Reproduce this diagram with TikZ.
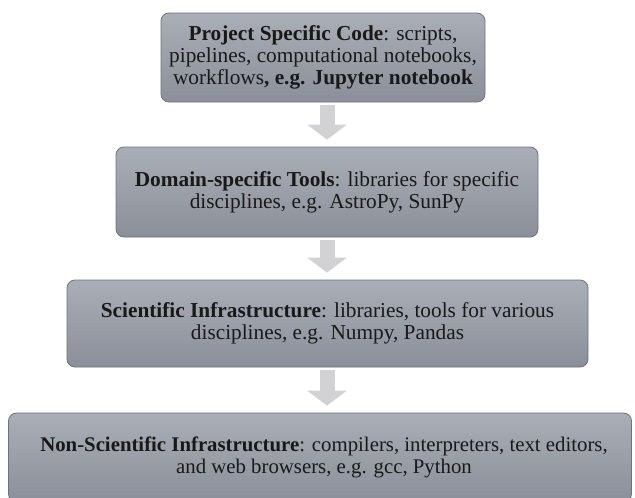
\documentclass[tikz,border=0pt]{standalone}
\usepackage{fontspec}
\setmainfont{Liberation Serif}
\usetikzlibrary{arrows.meta}
\definecolor{boxtop}{HTML}{AAAEB6}
\definecolor{boxbottom}{HTML}{8A8F99}
\definecolor{boxedge}{HTML}{6E727B}
\definecolor{downarrow}{HTML}{D2D2D4}
\begin{document}
\begin{tikzpicture}[x=1pt,y=-1pt,
    layer/.style={draw=boxedge, line width=0.8pt, rounded corners=8pt,
        top color=boxtop, bottom color=boxbottom, text=black!90,
        align=center, inner sep=0pt,
        font=\fontsize{21.3}{21.7}\selectfont},
    down/.style={draw=downarrow, line width=15pt,
        -{Triangle[width=39pt,length=15pt]},
        shorten <=3pt, shorten >=7pt}]
    \clip (0,0) rectangle (635,498);
    \fill[white] (0,0) rectangle (635,498);
    % project level
    \node[layer, minimum width=324pt, minimum height=89pt] (project) at (323,57.5)
        {\textbf{Project Specific Code}: scripts,\\ pipelines, computational notebooks,\\ workflows\textbf{, e.g. Jupyter notebook}};
    % domain level
    \node[layer, minimum width=422pt, minimum height=90pt] (domain) at (327,192)
        {\textbf{Domain-specific Tools}: libraries for specific\\ disciplines, e.g. AstroPy, SunPy};
    % scientific infrastructure
    \node[layer, minimum width=521pt, minimum height=87pt] (scientific) at (327.5,323.5)
        {\textbf{Scientific Infrastructure}: libraries, tools for various\\ disciplines, e.g. Numpy, Pandas};
    % non-scientific infrastructure
    \node[layer, minimum width=623pt, minimum height=89pt,
        font=\fontsize{20.8}{21.7}\selectfont] (nonscientific) at (320,457.5)
        {\hspace*{8pt}\textbf{Non-Scientific Infrastructure}: compilers, interpreters, text editors,\\ \hspace*{8pt}and web browsers, e.g. gcc, Python};
    % arrows between levels
    \draw[down] (project.south -| 327,0) -- (domain.north -| 327,0);
    \draw[down] (domain.south -| 327,0) -- (scientific.north -| 327,0);
    \draw[down] (scientific.south -| 327,0) -- (nonscientific.north -| 327,0);
\end{tikzpicture}
\end{document}
